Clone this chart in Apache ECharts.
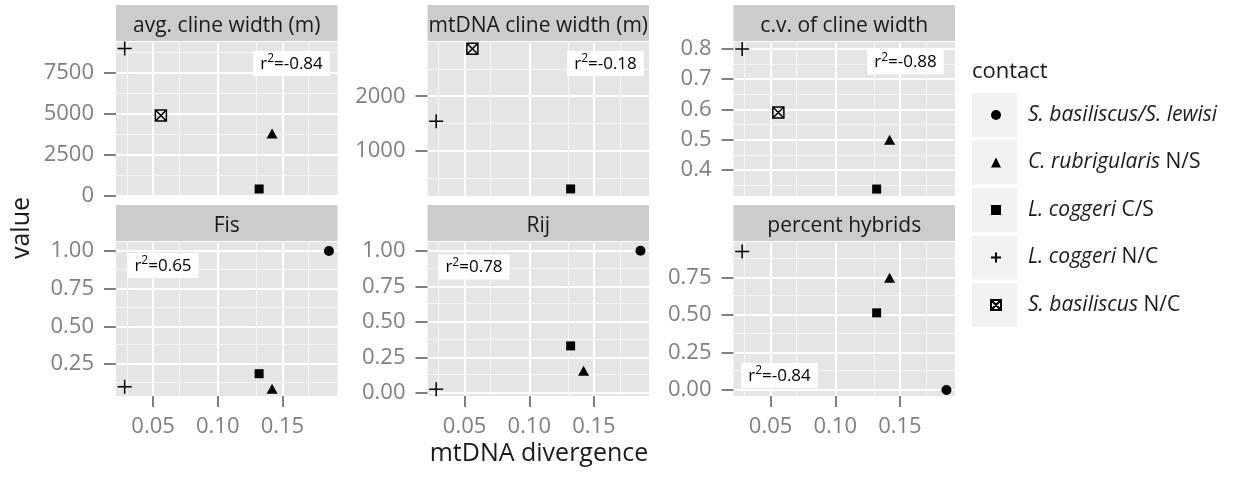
<!DOCTYPE html>
<html>
<head>
<meta charset="utf-8">
<script src="https://cdn.jsdelivr.net/npm/echarts@6/dist/echarts.min.js"></script>
<style>
  html, body { margin: 0; padding: 0; background: #fff; overflow: hidden; }
  #chart { width: 1239px; height: 477px; }
</style>
</head>
<body>
<div id="chart"></div>
<script>
// contacts (legend) and their mtDNA divergence (shared x)
var contacts = ['S. basiliscus/S. lewisi', 'C. rubrigularis N/S', 'L. coggeri C/S', 'L. coggeri N/C', 'S. basiliscus N/C'];
var divergence = [0.186, 0.142, 0.132, 0.028, 0.056];

// facet values, same order as contacts (null = not measured)
var panels = ['avg. cline width (m)', 'mtDNA cline width (m)', 'c.v. of cline width', 'Fis', 'Rij', 'percent hybrids'];
var avgWidth = [null, 3800, 400, 9000, 4900];
var mtWidth = [null, null, 300, 1540, 2870];
var cvWidth = [null, 0.50, 0.337, 0.80, 0.59];
var fis = [1.00, 0.086, 0.186, 0.10, null];
var rij = [1.00, 0.155, 0.33, 0.024, null];
var hybrids = [0.00, 0.75, 0.515, 0.924, null];
var r2Text = ['-0.84', '-0.18', '-0.88', '0.65', '0.78', '-0.84'];

// tick labels
var xTicks = [0.05, 0.10, 0.15];
var xMinor = [0.025, 0.075, 0.125, 0.175];
var yTicks = [[0, 2500, 5000, 7500], [1000, 2000], [0.4, 0.5, 0.6, 0.7, 0.8], [0.25, 0.5, 0.75, 1], [0, 0.25, 0.5, 0.75, 1], [0, 0.25, 0.5, 0.75]];
var yMinor = [[1250, 3750, 6250, 8750], [500, 1500, 2500], [0.35, 0.45, 0.55, 0.65, 0.75], [0.125, 0.375, 0.625, 0.875], [0.125, 0.375, 0.625, 0.875], [0.125, 0.375, 0.625, 0.875]];
var yDecimals = [0, 0, 1, 2, 2, 2];

// axis limits (free y scales)
var xRange = [0.0213, 0.1926];
var yRange = [[-30, 9400], [170, 2995], [0.314, 0.823], [0.038, 1.06], [-0.023, 1.062], [-0.04, 0.988]];

// layout
var panelLeft = [116, 427.5, 733.5];
var panelTop = [42, 242];
var panelW = 221.5, panelH = 154;
var r2Pos = [[291.5, 63.5], [605.5, 63.5], [905.5, 62], [163, 265.5], [474, 267], [779.5, 375.5]];

var FONT = 'Open Sans';
var GREY = '#7f7f7f';
var shapes = ['circle', 'triangle', 'rect', 'path://M5,0L5,10M0,5L10,5', 'path://M0,0L10,0L10,10L0,10ZM0,0L10,10M10,0L0,10'];
var sizes = [10, [11, 10], 9, 14, 11];
var values = [avgWidth, mtWidth, cvWidth, fis, rij, hybrids];

function itemStyleFor(c) {
  if (c < 3) return { color: '#000', opacity: 1 };
  return { color: 'rgba(0,0,0,0)', borderColor: '#000', borderWidth: 1.5, opacity: 1 };
}

var myChart = echarts.init(document.getElementById('chart'));
var grids = [], xAxes = [], yAxes = [], series = [], graphics = [];

for (var g = 0; g < 6; g++) {
  var row = Math.floor(g / 3), col = g % 3;
  var px = panelLeft[col], py = panelTop[row];
  var bottomRow = row === 1;

  grids.push({ left: px, top: py, width: panelW, height: panelH, show: true, backgroundColor: '#e5e5e5', borderWidth: 0 });

  xAxes.push({
    gridIndex: g, type: 'value', min: xRange[0], max: xRange[1],
    axisLine: { show: false, onZero: false },
    axisTick: { show: bottomRow, customValues: xTicks, length: 11, lineStyle: { color: GREY, width: 2 } },
    axisLabel: { show: bottomRow, customValues: xTicks, margin: 20, color: GREY, fontSize: 22, fontFamily: FONT,
      formatter: function (v) { return v.toFixed(2); } },
    splitLine: { show: true, lineStyle: { color: '#ffffff', width: 2 } }
  });
  (function (d) {
    yAxes.push({
      gridIndex: g, type: 'value', min: yRange[g][0], max: yRange[g][1],
      axisLine: { show: false, onZero: false },
      axisTick: { show: true, customValues: yTicks[g], length: 12, lineStyle: { color: GREY, width: 2 } },
      axisLabel: { show: true, customValues: yTicks[g], margin: 22, color: GREY, fontSize: 22, fontFamily: FONT,
        formatter: function (v) { return v.toFixed(d); } },
      splitLine: { show: true, lineStyle: { color: '#ffffff', width: 2 } }
    });
  })(yDecimals[g]);

  // minor grid lines, placed through the panel's own scales
  var minorLines = xMinor.map(function (v) { return { xAxis: v }; })
    .concat(yMinor[g].map(function (v) { return { yAxis: v }; }));
  series.push({
    type: 'scatter', xAxisIndex: g, yAxisIndex: g, data: [], silent: true, z: 1,
    markLine: { silent: true, symbol: 'none', animation: false, label: { show: false },
      lineStyle: { color: '#f5f5f5', width: 1.2, type: 'solid', opacity: 1 }, data: minorLines }
  });

  for (var c = 0; c < contacts.length; c++) {
    if (values[g][c] === null) continue;
    series.push({
      type: 'scatter', name: contacts[c], xAxisIndex: g, yAxisIndex: g,
      symbol: shapes[c], symbolSize: sizes[c], itemStyle: itemStyleFor(c), silent: true, z: 5,
      data: [[divergence[c], values[g][c]]]
    });
  }

  // strip
  graphics.push({ type: 'rect', z: 1, shape: { x: px, y: py - 37, width: panelW, height: 36 }, style: { fill: '#cccccc' } });
  graphics.push({ type: 'text', z: 2, x: px + panelW / 2, y: py - 16,
    style: { text: panels[g], fontFamily: FONT, fontSize: 21, fill: '#1a1a1a', align: 'center', verticalAlign: 'middle' } });
  // r^2 label
  graphics.push({ type: 'text', z: 10, x: r2Pos[g][0], y: r2Pos[g][1],
    style: { text: 'r{s|2}=' + r2Text[g], fontFamily: FONT, fontSize: 17, fill: '#000', lineHeight: 22,
      align: 'center', verticalAlign: 'middle', backgroundColor: '#ffffff', padding: [2, 7, 1, 7],
      rich: { s: { fontFamily: FONT, fontSize: 12, verticalAlign: 'top', lineHeight: 12 } } } });
}

// legend key boxes and title
for (var k = 0; k < contacts.length; k++) {
  graphics.push({ type: 'rect', z: 0, shape: { x: 972, y: 93 + k * 47.5, width: 45, height: 44 }, style: { fill: '#f2f2f2' } });
}
graphics.push({ type: 'text', x: 972, y: 72, style: { text: 'contact', fontFamily: FONT, fontSize: 22, fill: '#1a1a1a', verticalAlign: 'middle' } });
// axis titles
graphics.push({ type: 'text', x: 539, y: 454, style: { text: 'mtDNA divergence', fontFamily: FONT, fontSize: 25, fill: '#1a1a1a', align: 'center', verticalAlign: 'middle' } });
graphics.push({ type: 'text', x: 22, y: 228, rotation: Math.PI / 2, style: { text: 'value', fontFamily: FONT, fontSize: 25, fill: '#1a1a1a', align: 'center', verticalAlign: 'middle' } });

var option = {
  animation: false,
  backgroundColor: '#ffffff',
  textStyle: { fontFamily: FONT },
  grid: grids,
  xAxis: xAxes,
  yAxis: yAxes,
  legend: {
    orient: 'vertical', left: 985, top: 95, itemWidth: 10, itemHeight: 10, itemGap: 17.5,
    selectedMode: false, data: contacts,
    formatter: function (name) {
      var m = name.match(/^(.*?)( [NC]\/[SC])$/);
      if (m) return '{i|' + m[1] + '}{n|' + m[2] + '}';
      return '{i|' + name + '}';
    },
    textStyle: {
      fontFamily: FONT, fontSize: 21, color: '#1a1a1a', lineHeight: 30, padding: [0, 0, 0, 22],
      rich: {
        i: { fontFamily: FONT, fontSize: 21, fontStyle: 'italic', color: '#1a1a1a', lineHeight: 30 },
        n: { fontFamily: FONT, fontSize: 21, color: '#1a1a1a', lineHeight: 30 }
      }
    }
  },
  graphic: graphics,
  series: series
};

myChart.setOption(option);
window.addEventListener('resize', function () {
  myChart.resize();
});
</script>
</body>
</html>
